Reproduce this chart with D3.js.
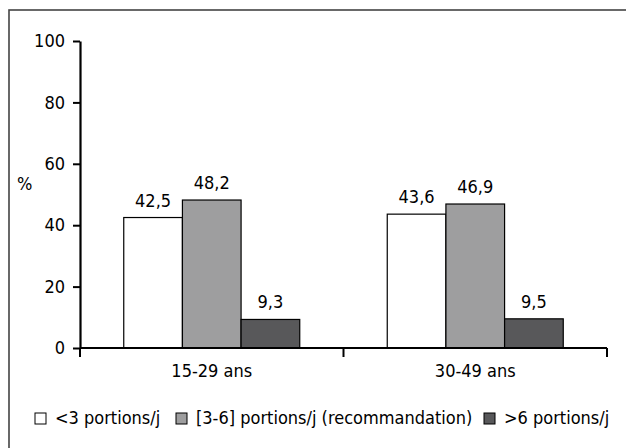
<!DOCTYPE html>
<html>
<head>
<meta charset="utf-8">
<script src="https://cdn.jsdelivr.net/npm/d3@7"></script>
<style>
  html, body { margin: 0; padding: 0; background: #fff; }
  svg { display: block; }
  text { font-family: "Liberation Sans Narrow", "DejaVu Sans Condensed", "Noto Sans", sans-serif; fill: #000; }
</style>
</head>
<body>
<svg id="chart" width="626" height="448"></svg>
<script>
const categories = ["15-29 ans", "30-49 ans"];
const seriesNames = ["<3 portions/j", "[3-6] portions/j (recommandation)", ">6 portions/j"];
const seriesColors = ["#ffffff", "#9e9e9f", "#58585a"];
const valuesLow = [42.5, 43.6];
const valuesRec = [48.2, 46.9];
const valuesHigh = [9.3, 9.5];
const yTicks = [0, 20, 40, 60, 80, 100];
const yLabel = "%";

const series = [valuesLow, valuesRec, valuesHigh];
const fmt = v => String(v).replace(".", ",");

const svg = d3.select("#chart");
const fontSize = 18;

// frame
svg.append("rect").attr("x", 9).attr("y", 10).attr("width", 700).attr("height", 500)
  .attr("fill", "none").attr("stroke", "#444").attr("stroke-width", 1.6);

const mLeft = 80, mRight = 607, mTop = 41, mBottom = 348;
const y = d3.scaleLinear().domain([0, 100]).range([mBottom, mTop]);
const x0 = d3.scaleBand().domain(categories).range([mLeft, mRight]).padding(0);
const groupW = 176;
const x1 = d3.scaleBand().domain(d3.range(series.length)).range([0, groupW]).padding(0);

// bars
categories.forEach((c, ci) => {
  const gx = x0(c) + (x0.bandwidth() - groupW) / 2;
  series.forEach((s, si) => {
    const v = s[ci];
    svg.append("rect")
      .attr("x", gx + x1(si)).attr("y", y(v))
      .attr("width", x1.bandwidth()).attr("height", y(0) - y(v))
      .attr("fill", seriesColors[si]).attr("stroke", "#000").attr("stroke-width", 1.2);
    svg.append("text")
      .attr("x", gx + x1(si) + x1.bandwidth() / 2).attr("y", y(v) - 11)
      .attr("text-anchor", "middle").attr("font-size", fontSize)
      .text(fmt(v));
  });
});

// y axis
const yAxis = d3.axisLeft(y).tickValues(yTicks).tickSize(7).tickPadding(8).tickSizeOuter(0);
const gy = svg.append("g").attr("transform", `translate(${mLeft},0)`).call(yAxis);
gy.select(".domain").attr("stroke", "#000").attr("stroke-width", 2.2);
gy.selectAll(".tick line").attr("stroke", "#000").attr("stroke-width", 2);
gy.selectAll(".tick text").attr("font-size", fontSize).attr("font-family", null).attr("fill", "#000");

// x axis
const xAxis = d3.axisBottom(x0).tickSize(0).tickPadding(16);
const gxa = svg.append("g").attr("transform", `translate(0,${mBottom})`).call(xAxis);
gxa.select(".domain").attr("d", `M${mLeft},0H${mRight}`).attr("stroke", "#000").attr("stroke-width", 2.2);
gxa.selectAll(".tick text").attr("font-size", fontSize).attr("font-family", null).attr("fill", "#000");
const sepTicks = [mLeft].concat(categories.map(c => x0(c) + x0.bandwidth()));
gxa.selectAll("line.sep").data(sepTicks).enter().append("line")
  .attr("x1", d => d).attr("x2", d => d).attr("y1", 0).attr("y2", 9)
  .attr("stroke", "#000").attr("stroke-width", 2);

// y label
svg.append("text").attr("x", 17).attr("y", 190).attr("font-size", fontSize).text(yLabel);

// legend
const legendX = [35, 176, 484];
const legendY = 418;
seriesNames.forEach((n, i) => {
  svg.append("rect").attr("x", legendX[i]).attr("y", legendY - 5).attr("width", 11).attr("height", 11)
    .attr("fill", seriesColors[i]).attr("stroke", "#000").attr("stroke-width", 1);
  svg.append("text").attr("x", legendX[i] + 20).attr("y", legendY + 6)
    .attr("font-size", fontSize).text(n);
});
</script>
</body>
</html>
